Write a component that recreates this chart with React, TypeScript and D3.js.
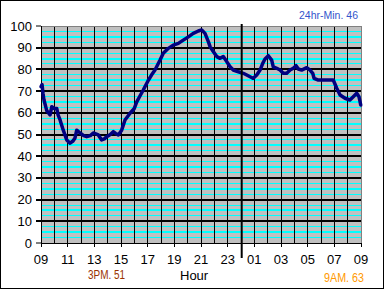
import React from 'react';
import * as d3 from 'd3';

// hours elapsed since 09:00 and temperature readings
const hourOffsets = [0, 0.08, 0.15, 0.22, 0.43, 0.68, 0.81, 1.0, 1.18, 1.28, 1.43, 1.67, 1.93, 2.18, 2.4, 2.55, 2.68, 2.93, 3.2, 3.43, 3.7, 3.92, 4.3, 4.55, 4.75, 4.93, 5.2, 5.42, 5.6, 5.8, 6.05, 6.3, 6.68, 7.0, 7.18, 7.4, 7.67, 8.05, 8.3, 8.55, 8.93, 9.17, 9.55, 9.92, 10.3, 10.67, 11.05, 11.42, 11.8, 12.05, 12.3, 12.55, 12.68, 12.92, 13.18, 13.43, 13.67, 13.93, 14.18, 14.42, 14.8, 15.17, 15.43, 15.68, 15.92, 16.18, 16.43, 16.63, 16.8, 17.05, 17.3, 17.42, 17.68, 17.93, 18.17, 18.43, 18.68, 18.92, 19.13, 19.3, 19.55, 19.93, 20.18, 20.38, 20.48, 20.8, 21.17, 21.55, 21.92, 22.18, 22.43, 22.8, 23.17, 23.42, 23.68, 23.85, 23.98];
const temps = [72, 73, 69, 66, 61, 59, 62.8, 62, 62, 59, 56.7, 52, 47.5, 46, 47, 48.4, 52, 50.7, 49.5, 49, 49.5, 50.7, 49.8, 47.5, 48, 49, 50, 51.3, 50.5, 49.8, 52, 56.7, 59.8, 62, 65, 67.5, 70.5, 75, 77.5, 79.7, 84.3, 87.4, 89.7, 91.2, 92, 93.5, 95, 96.6, 97.7, 98.2, 96.6, 92.8, 90.5, 88.2, 85.9, 85.1, 85.9, 83.6, 81.2, 79.7, 78.9, 78.2, 77.4, 76.6, 75.9, 77.4, 79.7, 82.8, 84.8, 86.3, 84.3, 81.2, 80.5, 79.7, 78.2, 78.2, 79.7, 80.5, 81.7, 80.2, 79.7, 80.8, 79.7, 78.2, 75.9, 75.1, 75.1, 75.1, 75.1, 71.3, 68.2, 66.7, 65.9, 67.4, 69, 67.4, 63.6];

const xTickLabels = ['09', '11', '13', '15', '17', '19', '21', '23', '01', '03', '05', '07', '09'];
const yTicks = [0, 10, 20, 30, 40, 50, 60, 70, 80, 90, 100];
const minLabel = '24hr-Min. 46';
const pmLabel = '3PM. 51';
const amLabel = '9AM. 63';
const xTitle = 'Hour';
const midnightOffset = 15;

export default function App() {
  const W = 385;
  const H = 290;
  const x = d3.scaleLinear().domain([0, 24]).range([41, 361]);
  const y = d3.scaleLinear().domain([0, 100]).range([243, 26]);
  const px = (v: number) => Math.floor(v) + 0.5;
  const font = '"Liberation Sans", Arial, sans-serif';

  const minor = d3.range(0, 100, 2.5).filter((v) => v % 10 !== 0);
  const hourLines = d3.range(1, 24);
  const pts = hourOffsets.map((h, i) => [x(h), y(temps[i])] as [number, number]);
  const line = d3.line().curve(d3.curveLinear)(pts) || '';

  return (
    <div style={{ position: 'absolute', left: 0, top: 0 }}>
      <svg width={W} height={H} style={{ display: 'block' }}>
        <rect x={0} y={0} width={W} height={H} fill="#ffffff" />
        <rect x={0.5} y={0.5} width={383} height={288} fill="none" stroke="#000" strokeWidth={1} />
        {/* plot area */}
        <rect x={x(0)} y={y(100)} width={x(24) - x(0)} height={y(0) - y(100)} fill="#c0c0c0" />
        {minor.map((v) => (
          <line key={'m' + v} x1={x(0)} x2={x(24)} y1={v % 5 === 0 ? Math.round(y(v)) : px(y(v))} y2={v % 5 === 0 ? Math.round(y(v)) : px(y(v))}
            stroke="#00ffff" strokeWidth={v % 5 === 0 ? 2 : 1} />
        ))}
        {hourLines.map((h) => (
          <line key={'v' + h} x1={px(x(h))} x2={px(x(h))} y1={y(100)} y2={y(0)} stroke="#000" strokeWidth={1} />
        ))}
        {yTicks.filter((v) => v > 0 && v < 100).map((v) => (
          <line key={'h' + v} x1={x(0)} x2={x(24)} y1={Math.round(y(v))} y2={Math.round(y(v))} stroke="#000" strokeWidth={2} />
        ))}
        {/* frame */}
        <line x1={x(0)} x2={x(24)} y1={px(y(100))} y2={px(y(100))} stroke="#808080" strokeWidth={1} />
        <line x1={px(x(24))} x2={px(x(24))} y1={y(100)} y2={y(0)} stroke="#808080" strokeWidth={1} />
        <line x1={px(x(0))} x2={px(x(0))} y1={y(100)} y2={y(0) + 1} stroke="#000" strokeWidth={1} />
        <line x1={x(0)} x2={x(24) + 1} y1={px(y(0))} y2={px(y(0))} stroke="#000" strokeWidth={1} />
        {/* y ticks */}
        {yTicks.map((v) => (
          <g key={'yt' + v}>
            <line x1={x(0) - 5} x2={x(0)} y1={Math.round(y(v))} y2={Math.round(y(v))} stroke="#000" strokeWidth={v === 0 || v === 100 ? 1 : 2} />
            <text x={32} y={y(v)} dy="0.35em" textAnchor="end" fontFamily={font} fontSize={13} fill="#000">{v}</text>
          </g>
        ))}
        {/* x ticks */}
        {xTickLabels.map((lab, i) => (
          <g key={'xt' + i}>
            <line x1={px(x(i * 2))} x2={px(x(i * 2))} y1={y(0)} y2={y(0) + 4} stroke="#000" strokeWidth={1} />
            <text x={x(i * 2)} y={263.5} textAnchor="middle" fontFamily={font} fontSize={13} fill="#000">{lab}</text>
          </g>
        ))}
        {/* data */}
        <path d={line} fill="none" stroke="#000080" strokeWidth={3.5} strokeLinejoin="round" strokeLinecap="round" />
        {/* midnight marker */}
        <line x1={x(midnightOffset) + 0.7} x2={x(midnightOffset) + 0.7} y1={24} y2={258} stroke="#000" strokeWidth={2} />
        {/* texts */}
        <text x={299} y={18.5} fontFamily={font} fontSize={11} fill="#3355cc" textLength={59} lengthAdjust="spacingAndGlyphs">{minLabel}</text>
        <text x={88} y={279.3} fontFamily={font} fontSize={12} fill="#993300" textLength={37} lengthAdjust="spacingAndGlyphs">{pmLabel}</text>
        <text x={180} y={280} fontFamily={font} fontSize={13} fill="#000">{xTitle}</text>
        <text x={324} y={281.5} fontFamily={font} fontSize={12} fill="#ff9900" textLength={40} lengthAdjust="spacingAndGlyphs">{amLabel}</text>
      </svg>
    </div>
  );
}
